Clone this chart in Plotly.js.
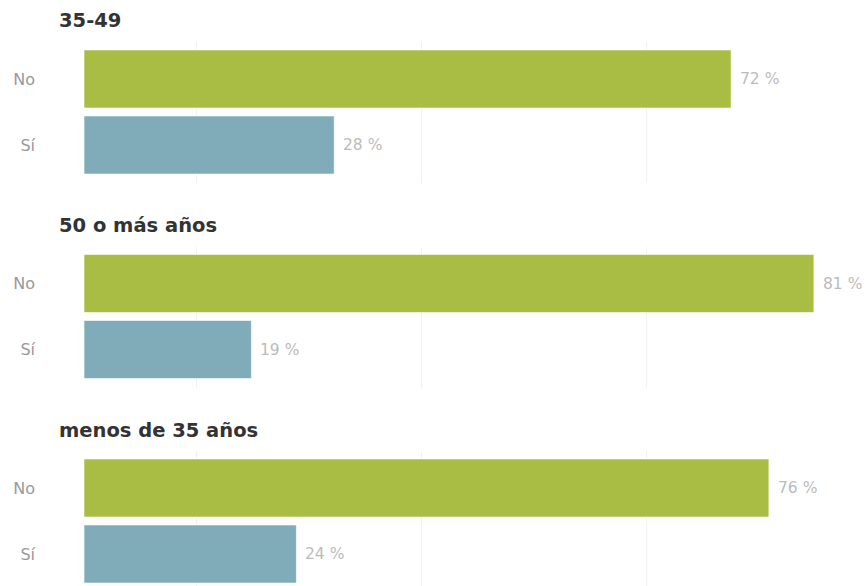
<!DOCTYPE html>
<html><head><meta charset="utf-8">
<script src="https://cdn.plot.ly/plotly-3.0.1.min.js"></script>
<style>html,body{margin:0;padding:0;background:#fff}#chart{width:867px;height:586px}</style>
</head><body><div id="chart"></div>
<script>
const groups = ['35-49', '50 o más años', 'menos de 35 años'];
const answers = ['No', 'Sí'];
const valuesNo = [71.9, 81.1, 76.1];
const valuesSi = [27.8, 18.6, 23.6];
const gridVals = [12.5, 37.5, 62.5, 87.5];

const W = 867, H = 586;
const colors = ['#a9bd45', '#80acba'];
const traces = [], annotations = [], layout = {
  width: W, height: H, margin: {l: 0, r: 0, t: 0, b: 0},
  paper_bgcolor: '#fff', plot_bgcolor: '#fff', showlegend: false,
  bargap: 0.12, font: {family: 'DejaVu Sans', size: 14, color: '#888'}
};
const step = 66, panelSpacing = 204.5, firstTop = 42, panelH = 141, noCenterOff = 37;
groups.forEach((g, i) => {
  const ax = i === 0 ? '' : String(i + 1);
  const topPx = firstTop + panelSpacing * i;
  const botPx = Math.min(topPx + panelH, H);
  const r0 = -noCenterOff / step;
  const r1 = r0 + (botPx - topPx) / step;
  const vals = [valuesNo[i], valuesSi[i]];
  traces.push({
    type: 'bar', orientation: 'h', x: vals, y: answers,
    xaxis: 'x' + ax, yaxis: 'y' + ax,
    marker: {color: colors, line: {color: 'rgba(255,255,255,0.6)', width: 1}},
    hoverinfo: 'none'
  });
  layout['xaxis' + ax] = {
    domain: [84 / W, 1], range: [0, 87], anchor: 'y' + ax,
    tickvals: gridVals, showticklabels: false, showgrid: true,
    gridcolor: '#f2f2f2', gridwidth: 1, zeroline: false, showline: false, ticks: ''
  };
  layout['yaxis' + ax] = {
    domain: [1 - botPx / H, 1 - topPx / H], anchor: 'x' + ax,
    type: 'category', categoryarray: answers, range: [r1, r0],
    showgrid: false, zeroline: false, showline: false, ticks: '',
    ticklabelstandoff: 48, tickfont: {family: 'DejaVu Sans', size: 16, color: '#999'}
  };
  annotations.push({
    xref: 'paper', yref: 'paper', x: 57 / W, y: 1 - (topPx - 21) / H,
    xanchor: 'left', yanchor: 'middle', showarrow: false, text: '<b>' + g + '</b>',
    font: {family: 'DejaVu Sans', size: 19.5, color: '#333'}
  });
  vals.forEach((v, j) => {
    annotations.push({
      xref: 'x' + ax, yref: 'y' + ax, x: v, y: answers[j], xanchor: 'left', yanchor: 'middle',
      xshift: 7, showarrow: false, text: Math.round(v) + ' %',
      font: {family: 'DejaVu Sans', size: 15.5, color: '#bbb'}
    });
  });
});
layout.annotations = annotations;
Plotly.newPlot('chart', traces, layout, {displayModeBar: false, staticPlot: true});
</script></body></html>
